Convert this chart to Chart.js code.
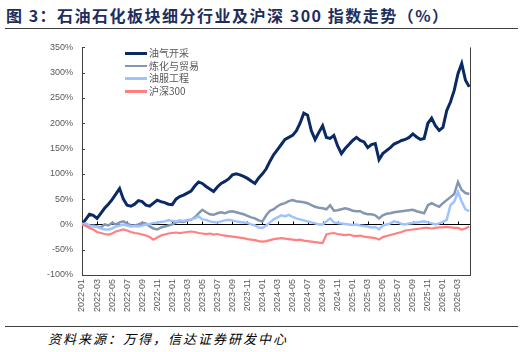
<!DOCTYPE html>
<html>
<head>
<meta charset="utf-8">
<script src="https://cdn.jsdelivr.net/npm/chart.js@4/dist/chart.umd.min.js"></script>
<style>
body { margin:0; width:522px; height:352px; background:#fff; position:relative; overflow:hidden; font-family:"Noto Sans CJK SC", sans-serif; }
#title { position:absolute; left:6px; top:3px; font-size:16px; font-weight:bold; color:#1f2d5c; letter-spacing:1.5px; white-space:nowrap; }
.rule { position:absolute; left:5px; width:513px; height:1px; background:#404040; }
#box { position:absolute; left:0; top:33px; width:522px; height:292px; }
#legend { position:absolute; left:125px; top:47px; font-size:10px; color:#595959; }
.item { height:12.7px; line-height:12.7px; display:flex; align-items:center; white-space:nowrap; }
.swatch { width:22px; margin-right:2px; }
#source { position:absolute; left:48px; top:329px; font-size:13px; font-style:italic; letter-spacing:2px; color:#000; white-space:nowrap; }
</style>
</head>
<body>
<div id="title">图 3：石油石化板块细分行业及沪深 300 指数走势（%）</div>
<div class="rule" style="top:28px"></div>
<div id="box"><canvas id="myChart"></canvas></div>
<div id="legend"></div>
<div class="rule" style="top:326px"></div>
<div id="source">资料来源：万得，信达证券研发中心</div>
<script>
// tick labels, one every two months starting 2022-01
var tickLabels = ['2022-01','2022-03','2022-05','2022-07','2022-09','2022-11',
    '2023-01','2023-03','2023-05','2023-07','2023-09','2023-11',
    '2024-01','2024-03','2024-05','2024-07','2024-09','2024-11',
    '2025-01','2025-03','2025-05','2025-07','2025-09','2025-11',
    '2026-01','2026-03'];

// readings every half month from 2022-01, in %
var oilGas = [0,10,20,18,12,22,32,40,49,60,71,50,38,36,40,47,45,38,36,42,
    48,45,43,40,39,50,55,58,62,66,76,84,81,75,70,65,74,81,85,90,
    98,100,98,95,91,86,81,92,100,110,125,138,148,158,168,172,176,185,200,220,
    216,185,168,182,195,172,170,176,155,140,150,158,166,172,166,163,152,158,160,128,
    140,146,152,159,162,166,168,172,179,173,168,170,200,210,195,186,192,225,242,265,
    298,318,285,272];
var refining = [2,0,-4,-2,-4,-6,0,-2,3,0,4,6,2,-2,-2,0,3,2,-4,-8,
    -10,-6,-4,-2,0,4,6,5,8,9,14,22,29,24,20,19,22,24,22,25,
    26,24,22,20,17,14,12,8,6,18,27,30,36,40,42,46,48,46,45,44,
    42,38,35,33,32,30,38,27,28,30,32,30,27,26,26,22,20,20,18,12,
    18,21,22,24,25,26,27,28,29,26,24,22,38,42,38,35,42,48,54,60,
    84,68,62,60];
var oilService = [0,2,-2,-4,-5,-8,-10,-10,-8,-4,-2,0,-2,-4,-3,-4,-2,0,1,3,
    3,5,6,8,7,6,8,7,9,10,12,16,10,9,6,5,4,6,8,9,
    8,6,5,4,3,0,-2,-6,-7,-2,4,10,14,18,16,19,15,12,10,8,
    6,4,2,0,0,6,12,4,3,2,1,0,-1,0,-2,-3,-4,-6,-5,-10,
    -2,0,2,6,4,1,0,2,3,4,5,6,4,2,0,2,5,9,38,45,
    64,45,30,26];
var csi300 = [0,-3,-7,-10,-15,-17,-19,-20,-18,-14,-12,-10,-12,-15,-17,-18,-20,-22,-25,-30,
    -26,-22,-20,-18,-17,-16,-17,-16,-15,-14,-15,-17,-18,-19,-18,-20,-19,-21,-22,-23,
    -24,-25,-26,-27,-29,-30,-31,-33,-34,-33,-31,-29,-28,-27,-28,-29,-30,-31,-30,-32,
    -33,-34,-35,-36,-37,-20,-18,-17,-19,-20,-21,-20,-22,-23,-22,-24,-25,-26,-27,-30,
    -25,-23,-21,-19,-17,-15,-12,-11,-10,-9,-8,-7,-7,-8,-7,-6,-6,-5,-6,-7,
    -7,-10,-8,-4];

var names = ['油气开采', '炼化与贸易', '油服工程', '沪深300'];
var colors = ['#0b2a63', '#8497b0', '#9ec3ff', '#ff8080'];
var widths = [3, 2.5, 2.5, 2.2];
var step = 0.5; // half a month between readings

function toPoints(arr) {
    return arr.map(function (v, i) { return {x: i * step, y: v}; });
}

var seriesData = [oilGas, refining, oilService, csi300];
var datasets = [];
// draw order: red at back, navy on top
for (var k = 3; k >= 0; k--) {
    datasets.push({
        label: names[k],
        data: toPoints(seriesData[k]),
        borderColor: colors[k],
        borderWidth: widths[k],
        pointRadius: 0,
        tension: 0,
        fill: false
    });
}

// legend inside the plot
var lg = document.getElementById('legend');
names.forEach(function (n, i) {
    lg.innerHTML += '<div class="item"><span class="swatch" style="height:' + widths[i] +
        'px;background:' + colors[i] + '"></span>' + n + '</div>';
});

var axisMarks = {
    id: 'axisMarks',
    beforeDatasetsDraw: function (chart) {
        var ctx = chart.ctx, a = chart.chartArea, x = chart.scales.x, y = chart.scales.y;
        ctx.save();
        ctx.lineWidth = 1;
        ctx.strokeStyle = '#000';
        var y0 = Math.round(y.getPixelForValue(0)) + 0.5;
        ctx.beginPath();
        ctx.moveTo(a.left, y0);
        ctx.lineTo(a.right, y0);
        x.ticks.forEach(function (t) {
            var px = Math.round(x.getPixelForValue(t.value)) + 0.5;
            ctx.moveTo(px, y0);
            ctx.lineTo(px, y0 - 3);
        });
        ctx.stroke();
        ctx.strokeStyle = '#404040';
        ctx.beginPath();
        y.ticks.forEach(function (t) {
            var py = Math.round(y.getPixelForValue(t.value)) + 0.5;
            ctx.moveTo(a.left, py);
            ctx.lineTo(a.left + 3, py);
        });
        var rx = Math.round(a.right) + 0.5;
        ctx.moveTo(rx, a.top);
        ctx.lineTo(rx, a.bottom);
        ctx.stroke();
        ctx.restore();
    }
};

Chart.defaults.font.family = '"Liberation Sans", "Noto Sans", sans-serif';
Chart.defaults.color = '#595959';

var ctx = document.getElementById('myChart').getContext('2d');
var myChart = new Chart(ctx, {
    type: 'line',
    data: {datasets: datasets},
    plugins: [axisMarks],
    options: {
        responsive: true,
        maintainAspectRatio: false,
        animation: false,
        layout: {padding: {top: 12, right: 52, left: 0, bottom: 0}},
        plugins: {legend: {display: false}, tooltip: {enabled: false}},
        scales: {
            x: {
                type: 'linear',
                min: 0,
                max: 51.6,
                grid: {display: false, drawTicks: false},
                border: {display: true, color: '#404040', width: 1},
                afterBuildTicks: function (s) {
                    s.ticks = s.ticks.filter(function (t) { return t.value % 2 === 0; });
                },
                afterFit: function (s) { s.height = 50; },
                ticks: {
                    stepSize: 2,
                    autoSkip: false,
                    minRotation: 90,
                    maxRotation: 90,
                    padding: 4,
                    font: {size: 9},
                    callback: function (v) { return tickLabels[v / 2]; }
                }
            },
            y: {
                min: -100,
                max: 350,
                grid: {display: false, drawTicks: false},
                border: {display: true, color: '#404040', width: 1},
                afterFit: function (s) { s.width = 82; },
                ticks: {
                    stepSize: 50,
                    padding: 9,
                    font: {size: 9},
                    callback: function (v) { return v + '%'; }
                }
            }
        }
    }
});
</script>
</body>
</html>
